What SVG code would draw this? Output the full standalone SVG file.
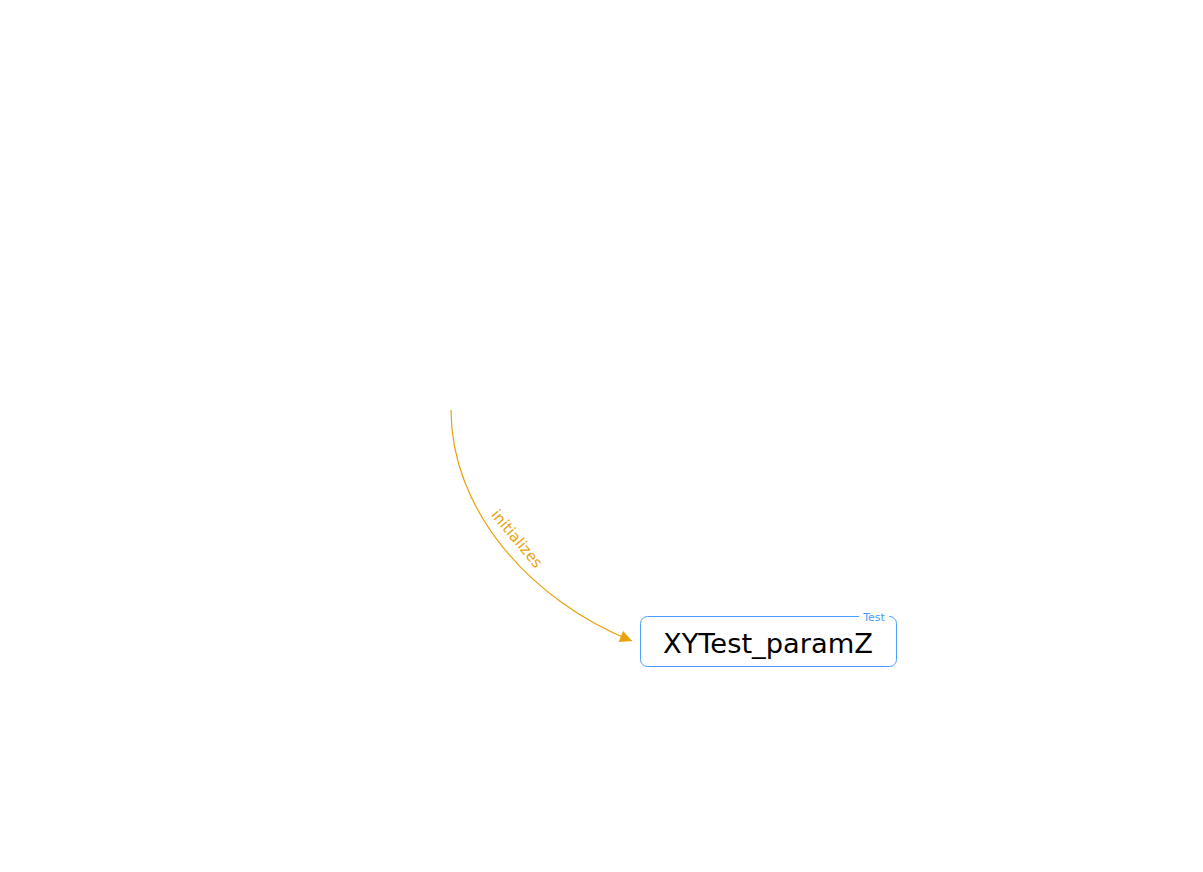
<svg xmlns="http://www.w3.org/2000/svg" width="1203" height="872" viewBox="0 0 1203 872">
<style>
.edge{fill:none;stroke:#E8A20C;stroke-width:1.2}
.elabel{font-family:"DejaVu Sans",sans-serif;font-size:15px;fill:#E8A20C}
.box{fill:#fff;stroke:#4A9CFF;stroke-width:1}
.ntext{font-family:"DejaVu Sans",sans-serif;font-size:27.3px;fill:#000}
.tag{font-family:"DejaVu Sans",sans-serif;font-size:11px;fill:#4A9CFF}
</style>
<defs>
<marker id="arr" viewBox="0 0 10 10" refX="10" refY="5" markerWidth="16" markerHeight="12" markerUnits="userSpaceOnUse" orient="auto">
<path d="M0,0L10,5L0,10z" fill="#E8A20C"/>
</marker>
</defs>
<rect width="1203" height="872" fill="#fff"/>
<g id="connectors">
<path class="edge" d="M451,410 C451,510 530,600 632,641" marker-end="url(#arr)"/>
<text class="elabel" transform="translate(513,542) rotate(50)" text-anchor="middle">initializes</text>
</g>
<g id="node-XYTest_paramZ">
<rect class="box" x="640.5" y="616.5" width="256" height="50" rx="7"/>
<rect x="859" y="610" width="30" height="12" fill="#fff"/>
<text class="tag" x="874" y="621" text-anchor="middle">Test</text>
<text class="ntext" x="768" y="653" text-anchor="middle">XYTest_paramZ</text>
</g>
</svg>
